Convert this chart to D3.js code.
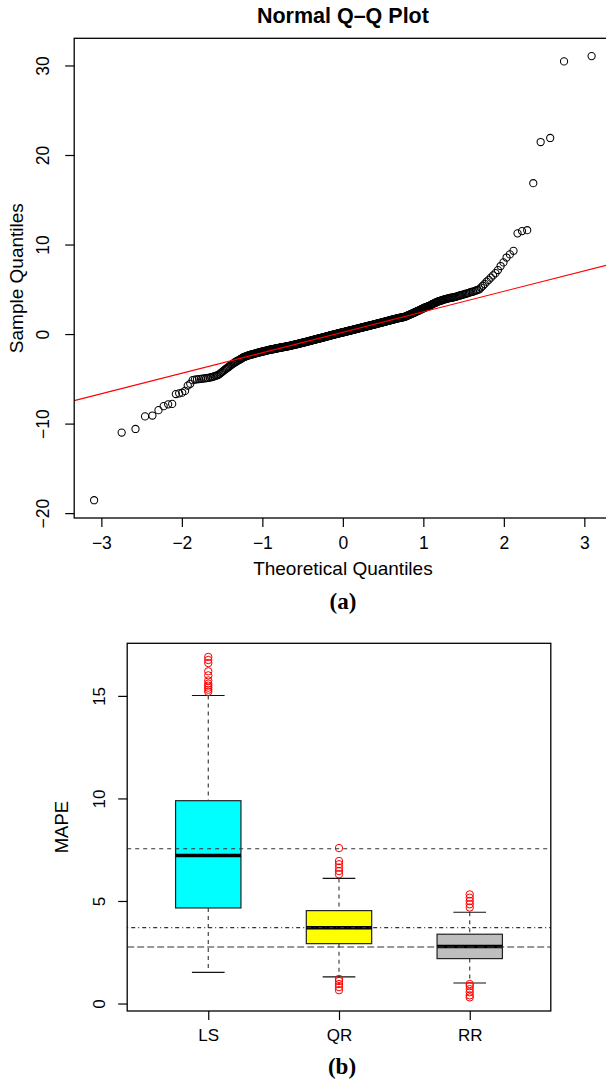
<!DOCTYPE html>
<html>
<head>
<meta charset="utf-8">
<script src="https://cdn.jsdelivr.net/npm/d3@7"></script>
<style>
  body { margin: 0; background: #fff; }
  text { font-family: "Liberation Sans", Arial, sans-serif; fill: #000; }
</style>
</head>
<body>
<script>
// ---- (a) Normal Q-Q plot: sorted sample quantiles (n = 500) ----
const sampleLowerTail = [-18.56, -11.0, -10.6, -9.2, -9.1, -8.5, -8.05, -7.85, -7.8, -6.7, -6.62, -6.55, -6.35, -5.75, -5.55, -5.15, -5.08,
  -5.06, -5.03, -5.0, -4.98, -4.95, -4.92, -4.9, -4.87, -4.82, -4.77, -4.72, -4.66, -4.61, -4.55, -4.44, -4.33, -4.22,
  -4.11, -4.0, -3.9, -3.81, -3.71, -3.62, -3.53, -3.44, -3.35, -3.27, -3.2, -3.12, -3.06, -3.0, -2.94, -2.88,
  -2.82, -2.76, -2.7, -2.64, -2.58, -2.54, -2.51, -2.47, -2.44, -2.4]
const sampleBody = [
  -2.38, -2.35, -2.33, -2.3, -2.28, -2.25, -2.23, -2.2, -2.18, -2.15,
  -2.13, -2.11, -2.09, -2.07, -2.05, -2.03, -2.01, -1.99, -1.97, -1.95,
  -1.93, -1.92, -1.9, -1.88, -1.87, -1.85, -1.83, -1.81, -1.8, -1.78,
  -1.77, -1.75, -1.74, -1.72, -1.71, -1.7, -1.68, -1.67, -1.65, -1.64,
  -1.63, -1.61, -1.6, -1.59, -1.58, -1.56, -1.55, -1.54, -1.52, -1.51,
  -1.5, -1.49, -1.48, -1.47, -1.46, -1.45, -1.44, -1.42, -1.41, -1.4, -1.39, -1.38, -1.37, -1.36, -1.35,
  -1.34, -1.32, -1.31, -1.3, -1.29, -1.27, -1.26, -1.25, -1.23, -1.22, -1.21, -1.2, -1.18, -1.17, -1.16,
  -1.15, -1.13, -1.12, -1.11, -1.09, -1.08, -1.07, -1.05, -1.04, -1.03,
  -1.02, -1.0, -0.99, -0.98, -0.97, -0.95, -0.94, -0.93, -0.91, -0.9, -0.89, -0.88, -0.86, -0.85, -0.84,
  -0.82, -0.81, -0.8, -0.79, -0.77, -0.76, -0.75, -0.73, -0.72, -0.71,
  -0.7, -0.68, -0.67, -0.66, -0.65, -0.63, -0.62, -0.61, -0.6, -0.58, -0.57, -0.56, -0.55, -0.54, -0.52,
  -0.51, -0.5, -0.49, -0.47, -0.46, -0.45, -0.44, -0.42, -0.41, -0.4,
  -0.39, -0.38, -0.36, -0.35, -0.34, -0.33, -0.31, -0.3, -0.29, -0.28, -0.26, -0.25, -0.24, -0.23, -0.21,
  -0.2, -0.19, -0.18, -0.16, -0.15, -0.14, -0.13, -0.11, -0.1, -0.09,
  -0.08, -0.07, -0.06, -0.05, -0.03, -0.02, -0.01, 0, 0.01, 0.02, 0.03, 0.04, 0.06, 0.07, 0.08,
  0.09, 0.1, 0.11, 0.12, 0.13, 0.15, 0.16, 0.17, 0.18, 0.19,
  0.2, 0.21, 0.22, 0.23, 0.25, 0.26, 0.27, 0.28, 0.29, 0.3, 0.31, 0.32, 0.34, 0.35, 0.36,
  0.37, 0.38, 0.39, 0.4, 0.41, 0.43, 0.44, 0.45, 0.46, 0.47,
  0.48, 0.49, 0.5, 0.52, 0.53, 0.54, 0.55, 0.56, 0.57, 0.59, 0.6, 0.61, 0.62, 0.63, 0.64,
  0.66, 0.67, 0.68, 0.69, 0.7, 0.71, 0.73, 0.74, 0.75, 0.76,
  0.77, 0.78, 0.8, 0.81, 0.82, 0.83, 0.84, 0.86, 0.87, 0.88, 0.89, 0.9, 0.92, 0.93, 0.94,
  0.95, 0.96, 0.98, 0.99, 1.0, 1.01, 1.02, 1.04, 1.05, 1.06,
  1.07, 1.09, 1.1, 1.11, 1.12, 1.14, 1.15, 1.16, 1.18, 1.19, 1.2, 1.21, 1.23, 1.24, 1.25,
  1.26, 1.28, 1.29, 1.3, 1.32, 1.33, 1.34, 1.35, 1.37, 1.38,
  1.39, 1.41, 1.42, 1.44, 1.45, 1.47, 1.48, 1.5, 1.51, 1.52, 1.54, 1.55, 1.57, 1.58, 1.6,
  1.61, 1.62, 1.64, 1.65, 1.67, 1.68, 1.7, 1.71, 1.73, 1.74,
  1.75, 1.77, 1.78, 1.79, 1.8, 1.82, 1.83, 1.84, 1.85, 1.87, 1.88, 1.89, 1.9, 1.92, 1.93,
  1.96, 1.98, 2.01, 2.04, 2.07, 2.09, 2.12, 2.15, 2.17, 2.2]
const sampleUpperTail = [2.23, 2.26, 2.29, 2.32, 2.35, 2.38, 2.41, 2.44, 2.47, 2.5,
  2.53, 2.56, 2.6, 2.63, 2.66, 2.7, 2.73, 2.77, 2.8, 2.84,
  2.87, 2.9, 2.94, 2.97, 3.0, 3.03, 3.06, 3.1, 3.13, 3.16,
  3.2, 3.25, 3.29, 3.34, 3.38, 3.42, 3.46, 3.5, 3.55, 3.6,
  3.63, 3.66, 3.69, 3.72, 3.75, 3.78, 3.81, 3.84, 3.87, 3.9,
  3.94, 3.97, 3.99, 4.01, 4.04, 4.06, 4.08, 4.1, 4.13, 4.15,
  4.19, 4.23, 4.27, 4.31, 4.35, 4.39, 4.43, 4.47, 4.51, 4.55,
  4.6, 4.65, 4.7, 4.75, 4.8, 4.87, 4.93, 5.0, 5.2,
  5.4, 5.6, 5.85, 6.05, 6.3, 6.55, 6.8, 7.15, 7.6, 8.0,
  8.55, 8.9, 9.3, 11.25, 11.5, 11.6, 16.85, 21.45, 21.9, 30.45, 31.05]
const qqXTicks = [-3, -2, -1, 0, 1, 2, 3]
const qqYTicks = [-20, -10, 0, 10, 20, 30]

// ---- (b) MAPE boxplots ----
const methods = ['LS', 'QR', 'RR']
const whiskerLow = [1.52, 1.30, 1.0]
const quart1 = [4.66, 2.92, 2.19]
const medians = [7.22, 3.70, 2.78]
const quart3 = [9.89, 4.53, 3.38]
const whiskerHigh = [15.02, 6.10, 4.45]
const outliersLS = [15.2, 15.3, 15.4, 15.5, 15.6, 15.75, 16.0, 16.2, 16.6, 16.75, 16.9]
const outliersQR = [0.65, 0.8, 0.95, 1.1, 1.2, 6.3, 6.46, 6.63, 6.79, 6.95, 7.58]
const outliersRR = [0.3, 0.4, 0.55, 0.7, 0.85, 0.95, 4.68, 4.84, 5.0, 5.16, 5.32]
const refLines = [7.55, 3.70, 2.76]
const mapeTicks = [0, 5, 10, 15]

// Acklam's inverse normal CDF
function qnorm (p) {
  const a = [-3.969683028665376e+01, 2.209460984245205e+02, -2.759285104469687e+02, 1.383577518672690e+02, -3.066479806614716e+01, 2.506628277459239e+00]
  const b = [-5.447609879822406e+01, 1.615858368580409e+02, -1.556989798598866e+02, 6.680131188771972e+01, -1.328068155288572e+01]
  const c = [-7.784894002430293e-03, -3.223964580411365e-01, -2.400758277161838e+00, -2.549732539343734e+00, 4.374664141464968e+00, 2.938163982698783e+00]
  const d = [7.784695709041462e-03, 3.224671290700398e-01, 2.445134137142996e+00, 3.754408661907416e+00]
  const tail = q => (((((c[0] * q + c[1]) * q + c[2]) * q + c[3]) * q + c[4]) * q + c[5]) / ((((d[0] * q + d[1]) * q + d[2]) * q + d[3]) * q + 1)
  if (p < 0.02425) return tail(Math.sqrt(-2 * Math.log(p)))
  if (p > 1 - 0.02425) return -tail(Math.sqrt(-2 * Math.log(1 - p)))
  const q = p - 0.5, r = q * q
  return (((((a[0] * r + a[1]) * r + a[2]) * r + a[3]) * r + a[4]) * r + a[5]) * q /
    (((((b[0] * r + b[1]) * r + b[2]) * r + b[3]) * r + b[4]) * r + 1)
}

// R style axis range: data extent plus 4%
const pad = ([lo, hi]) => [lo - (hi - lo) * 0.04, hi + (hi - lo) * 0.04]

const svg = d3.select('body').append('svg')
    .attr('width', 606)
    .attr('height', 1082)

// ================= panel (a) =================
const sample = sampleLowerTail.concat(sampleBody, sampleUpperTail).sort((a, b) => a - b)
const n = sample.length
const theo = sample.map((d, i) => qnorm((i + 0.5) / n))

const A = {left: 74.2, right: 611.5, top: 38.3, bottom: 518}
const xq = d3.scaleLinear().domain(pad(d3.extent(theo))).range([A.left, A.right])
const yq = d3.scaleLinear().domain(pad(d3.extent(sample))).range([A.bottom, A.top])

svg.append('clipPath').attr('id', 'clipA')
  .append('rect')
    .attr('x', A.left).attr('y', A.top)
    .attr('width', A.right - A.left).attr('height', A.bottom - A.top)

const gA = svg.append('g')

gA.selectAll('circle.pt')
    .data(sample)
  .enter().append('circle')
    .attr('class', 'pt')
    .attr('cx', (d, i) => xq(theo[i]))
    .attr('cy', d => yq(d))
    .attr('r', 3.6)
    .attr('fill', 'none')
    .attr('stroke', '#000')
    .attr('stroke-width', 1.05)

// qqline through the quartiles
const qy = [d3.quantile(sample, 0.25), d3.quantile(sample, 0.75)]
const qx = [qnorm(0.25), qnorm(0.75)]
const slope = (qy[1] - qy[0]) / (qx[1] - qx[0])
const icpt = qy[0] - slope * qx[0]
const xd = xq.domain()
gA.append('line')
    .attr('clip-path', 'url(#clipA)')
    .attr('x1', xq(xd[0])).attr('y1', yq(icpt + slope * xd[0]))
    .attr('x2', xq(xd[1])).attr('y2', yq(icpt + slope * xd[1]))
    .attr('stroke', '#ff0000')
    .attr('stroke-width', 1.1)

gA.append('rect')
    .attr('x', A.left).attr('y', A.top)
    .attr('width', A.right - A.left).attr('height', A.bottom - A.top)
    .attr('fill', 'none').attr('stroke', '#000').attr('stroke-width', 1.3)

const axA = gA.append('g')
    .attr('transform', 'translate(0,' + A.bottom + ')')
    .call(d3.axisBottom(xq).tickValues(qqXTicks).tickSize(9).tickPadding(0)
      .tickFormat(d => d < 0 ? '\u2212' + Math.abs(d) : d))
axA.select('.domain').remove()
axA.selectAll('line').attr('stroke-width', 1.2)
axA.selectAll('text')
    .attr('y', 31).attr('dy', 0)
    .style('font-size', '17.5px')

const ayA = gA.append('g')
    .attr('transform', 'translate(' + A.left + ',0)')
    .call(d3.axisLeft(yq).tickValues(qqYTicks).tickSize(9)
      .tickFormat(d => d < 0 ? '\u2212' + Math.abs(d) : d))
ayA.select('.domain').remove()
ayA.selectAll('line').attr('stroke-width', 1.2)
ayA.selectAll('text')
    .attr('transform', 'rotate(-90)')
    .attr('x', 0).attr('y', -25).attr('dy', 0)
    .attr('text-anchor', 'middle')
    .style('font-size', '17.5px')

svg.append('text')
    .attr('x', 342.9).attr('y', 22.5)
    .attr('text-anchor', 'middle')
    .style('font-size', '21.5px').style('font-weight', 'bold')
    .text('Normal Q\u2013Q Plot')

svg.append('text')
    .attr('x', 342.9).attr('y', 575)
    .attr('text-anchor', 'middle')
    .style('font-size', '19px')
    .text('Theoretical Quantiles')

svg.append('text')
    .attr('transform', 'translate(23,' + (A.top + A.bottom) / 2 + ') rotate(-90)')
    .attr('text-anchor', 'middle')
    .style('font-size', '19px')
    .text('Sample Quantiles')

svg.append('text')
    .attr('x', 342.9).attr('y', 609)
    .attr('text-anchor', 'middle')
    .style('font-family', '"Liberation Serif", "Times New Roman", serif')
    .style('font-size', '23px').style('font-weight', 'bold')
    .text('(a)')

// ================= panel (b) =================
const B = {left: 127.2, right: 550.8, top: 643.3, bottom: 1011}
const outliers = [outliersLS, outliersQR, outliersRR]
const allB = d3.merge([whiskerLow, whiskerHigh, outliersLS, outliersQR, outliersRR])
const xb = d3.scaleLinear().domain(pad([0.5, 3.5])).range([B.left, B.right])
const yb = d3.scaleLinear().domain(pad(d3.extent(allB))).range([B.bottom, B.top])
const boxFill = ['#00ffff', '#ffff00', '#bebebe']
const halfBox = xb(1.25) - xb(1)
const halfCap = halfBox / 2

svg.append('clipPath').attr('id', 'clipB')
  .append('rect')
    .attr('x', B.left).attr('y', B.top)
    .attr('width', B.right - B.left).attr('height', B.bottom - B.top)

const gB = svg.append('g')
const box = gB.selectAll('g.box')
    .data(methods)
  .enter().append('g')
    .attr('class', 'box')
    .attr('transform', (d, i) => 'translate(' + xb(i + 1) + ',0)')

// whiskers
box.append('line')
    .attr('x1', 0).attr('x2', 0)
    .attr('y1', (d, i) => yb(whiskerHigh[i])).attr('y2', (d, i) => yb(quart3[i]))
    .attr('stroke', '#333').attr('stroke-width', 1.1).attr('stroke-dasharray', '4,4')
box.append('line')
    .attr('x1', 0).attr('x2', 0)
    .attr('y1', (d, i) => yb(quart1[i])).attr('y2', (d, i) => yb(whiskerLow[i]))
    .attr('stroke', '#333').attr('stroke-width', 1.1).attr('stroke-dasharray', '4,4')

box.append('rect')
    .attr('x', -halfBox).attr('width', 2 * halfBox)
    .attr('y', (d, i) => yb(quart3[i]))
    .attr('height', (d, i) => yb(quart1[i]) - yb(quart3[i]))
    .attr('fill', (d, i) => boxFill[i])
    .attr('stroke', '#222').attr('stroke-width', 1.2)

box.append('line')
    .attr('x1', -halfBox).attr('x2', halfBox)
    .attr('y1', (d, i) => yb(medians[i])).attr('y2', (d, i) => yb(medians[i]))
    .attr('stroke', '#000').attr('stroke-width', 3.5)

box.selectAll('line.cap')
    .data((d, i) => [whiskerLow[i], whiskerHigh[i]])
  .enter().append('line')
    .attr('class', 'cap')
    .attr('x1', -halfCap).attr('x2', halfCap)
    .attr('y1', d => yb(d)).attr('y2', d => yb(d))
    .attr('stroke', '#111').attr('stroke-width', 1.2)

box.selectAll('circle')
    .data((d, i) => outliers[i])
  .enter().append('circle')
    .attr('cx', 0).attr('cy', d => yb(d))
    .attr('r', 3.7)
    .attr('fill', 'none').attr('stroke', '#ff0000').attr('stroke-width', 1)

// reference lines: dashed, dot-dash, long dash
const refDash = ['4,4', '1,3,4,3', '7,3']
gB.selectAll('line.ref')
    .data(refLines)
  .enter().append('line')
    .attr('class', 'ref')
    .attr('clip-path', 'url(#clipB)')
    .attr('x1', B.left).attr('x2', B.right)
    .attr('y1', d => yb(d)).attr('y2', d => yb(d))
    .attr('stroke', '#333').attr('stroke-width', 1.1)
    .attr('stroke-dasharray', (d, i) => refDash[i])

gB.append('rect')
    .attr('x', B.left).attr('y', B.top)
    .attr('width', B.right - B.left).attr('height', B.bottom - B.top)
    .attr('fill', 'none').attr('stroke', '#000').attr('stroke-width', 1.3)

const axB = gB.append('g')
    .attr('transform', 'translate(0,' + B.bottom + ')')
    .call(d3.axisBottom(xb).tickValues([1, 2, 3]).tickSize(9).tickFormat((d, i) => methods[i]))
axB.select('.domain').remove()
axB.selectAll('line').attr('stroke-width', 1.2)
axB.selectAll('text')
    .attr('y', 30).attr('dy', 0)
    .style('font-size', '17px')

const ayB = gB.append('g')
    .attr('transform', 'translate(' + B.left + ',0)')
    .call(d3.axisLeft(yb).tickValues(mapeTicks).tickSize(9))
ayB.select('.domain').remove()
ayB.selectAll('line').attr('stroke-width', 1.2)
ayB.selectAll('text')
    .attr('transform', 'rotate(-90)')
    .attr('x', 0).attr('y', -22).attr('dy', 0)
    .attr('text-anchor', 'middle')
    .style('font-size', '17px')

svg.append('text')
    .attr('transform', 'translate(68,' + (B.top + B.bottom) / 2 + ') rotate(-90)')
    .attr('text-anchor', 'middle')
    .style('font-size', '18.5px')
    .text('MAPE')

svg.append('text')
    .attr('x', 342).attr('y', 1074)
    .attr('text-anchor', 'middle')
    .style('font-family', '"Liberation Serif", "Times New Roman", serif')
    .style('font-size', '23px').style('font-weight', 'bold')
    .text('(b)')
</script>
</body>
</html>
